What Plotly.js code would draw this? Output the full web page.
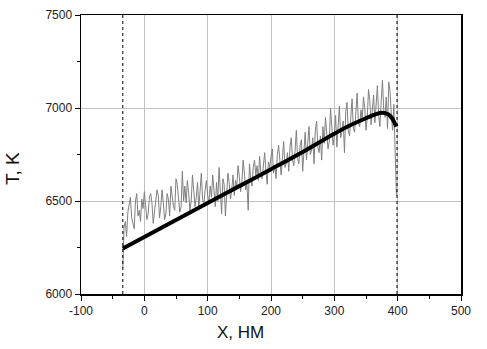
<!DOCTYPE html>
<html><head><meta charset="utf-8">
<script src="https://cdn.plot.ly/plotly-3.0.1.min.js"></script>
<style>body{margin:0;background:#fff}</style>
</head><body><div id="chart" style="width:487px;height:349px"></div>
<script>
const grayStart = -34;
const grayStep = 2;
const grayT = [
6140,6360,6390,6310,6440,6480,6520,6410,6370,6350,
6500,6540,6420,6450,6390,6510,6460,6550,6480,6400,
6430,6520,6540,6490,6380,6440,6500,6560,6530,6410,
6470,6560,6490,6400,6430,6540,6510,6420,6580,6520,
6470,6450,6620,6590,6500,6440,6470,6660,6500,6580,
6490,6610,6540,6450,6500,6640,6560,6470,6520,6600,
6460,6590,6650,6510,6480,6560,6610,6530,6490,6580,
6520,6640,6560,6470,6600,6500,6680,6570,6430,6620,
6590,6420,6540,6650,6600,6510,6560,6640,6530,6610,
6580,6690,6630,6550,6600,6720,6650,6560,6590,6450,
6700,6610,6580,6680,6720,6640,6690,6610,6740,6650,
6620,6700,6760,6660,6590,6710,6680,6740,6780,6650,
6690,6620,6750,6800,6700,6640,6730,6820,6680,6700,
6760,6660,6790,6840,6720,6690,6770,6880,6730,6700,
6800,6830,6660,6760,6870,6720,6800,6900,6750,6770,
6840,6700,6880,6930,6790,6760,6850,6720,6900,6810,
6950,6870,6780,6820,7000,6900,6800,6850,6960,6790,
6920,7010,6840,6870,6930,6760,6980,7030,6880,6850,
6950,7050,6890,6870,6980,7080,6920,6900,6990,6940,
7060,7000,6880,6950,7100,7040,6910,6980,7070,6920,
7010,7120,6960,6900,7040,7150,6990,6950,7060,6890,
7140,7090,6960,6880,7020,6830,6530
];
const grayX = grayT.map((_, i) => grayStart + i * grayStep);

const fitX = [-34, 0, 50, 100, 150, 200, 250, 300, 330, 350, 365, 375, 385, 392, 398];
const fitT = [6245, 6307, 6398, 6489, 6580, 6671, 6764, 6862, 6915, 6945, 6966, 6975, 6966, 6940, 6900];

const boundaries = [-34, 399];

const xTicks = [-100, 0, 100, 200, 300, 400, 500];
const yTicks = [6000, 6500, 7000, 7500];

const tickFont = {family: 'Arial, Liberation Sans, sans-serif', size: 12, color: '#222'};

const data = [
  {x: grayX, y: grayT, mode: 'lines', line: {color: '#808080', width: 1}, hoverinfo: 'skip'},
  {x: fitX, y: fitT, mode: 'lines', line: {color: '#000', width: 4, shape: 'spline'}, hoverinfo: 'skip'}
];

const axisCommon = {
  showline: true, linecolor: '#000', linewidth: 1.5, mirror: true,
  ticks: 'outside', ticklen: 5, tickcolor: '#000', tickwidth: 1,
  showgrid: true, gridcolor: '#c0c0c0', gridwidth: 1,
  zeroline: false, tickfont: tickFont
};

const layout = {
  width: 487, height: 349,
  margin: {l: 81, r: 26, t: 15, b: 55},
  paper_bgcolor: '#fff', plot_bgcolor: '#fff',
  showlegend: false,
  xaxis: Object.assign({}, axisCommon, {
    range: [-100, 500], tickvals: xTicks, ticktext: xTicks.map(String),
    minor: {ticks: 'outside', ticklen: 3, dtick: 50, tick0: -100, tickcolor: '#000', showgrid: false}
  }),
  yaxis: Object.assign({}, axisCommon, {
    range: [6000, 7500], tickvals: yTicks, ticktext: yTicks.map(String),
    minor: {ticks: 'outside', ticklen: 3, dtick: 250, tick0: 6000, tickcolor: '#000', showgrid: false}
  }),
  shapes: boundaries.map(b => ({
    type: 'line', xref: 'x', yref: 'paper', x0: b, x1: b, y0: 0, y1: 1,
    line: {color: '#000', width: 1, dash: 'dot'}
  })),
  annotations: [
    {text: 'X, НМ', xref: 'paper', yref: 'paper', x: (240 - 81) / 380, y: -0.095, yanchor: 'top', xanchor: 'center',
     showarrow: false, font: {family: 'Arial, Liberation Sans, sans-serif', size: 17, color: '#111'}},
    {text: 'T, K', xref: 'paper', yref: 'paper', x: -0.18, xanchor: 'center', y: 0.45, yanchor: 'middle', textangle: -90,
     showarrow: false, font: {family: 'Arial, Liberation Sans, sans-serif', size: 19, color: '#111'}}
  ]
};

Plotly.newPlot('chart', data, layout, {staticPlot: true, displayModeBar: false});
</script>
</body></html>
